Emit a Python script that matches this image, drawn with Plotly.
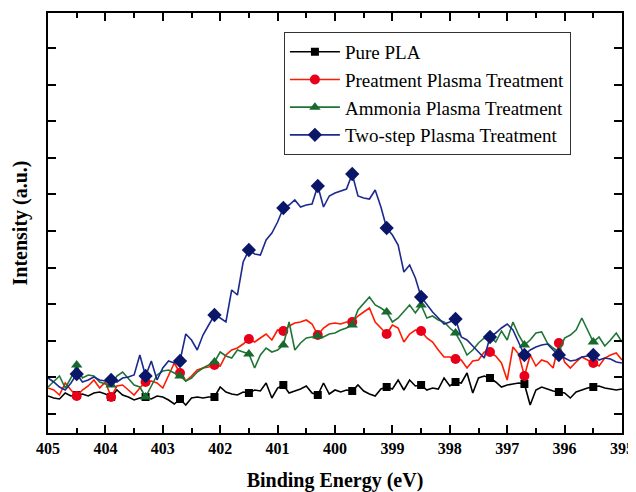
import plotly.graph_objects as go

# Binding energy grid (eV), 0.1 eV step from 405.0 down to 395.0
energy = [round(405.0 - 0.1 * i, 1) for i in range(101)]

pure_pla = [37, 35, 34, 40, 37, 38, 39, 37, 40, 41, 39, 36, 43, 38, 36, 33, 35, 36, 34, 37,
            36, 33, 29, 34, 28, 35, 36, 35, 36, 36, 46, 41, 39, 38, 41, 40, 43, 42, 50, 35,
            45, 48, 40, 42, 44, 47, 40, 38, 50, 39, 43, 41, 43, 42, 48, 42, 39, 37, 44, 46,
            44, 53, 43, 53, 47, 48, 43, 45, 44, 55, 47, 51, 50, 60, 40, 55, 57, 55, 51, 46,
            48, 49, 50, 49, 28, 43, 46, 44, 42, 41, 40, 35, 41, 43, 45, 46, 47, 45, 44, 43, 44]

pretreat = [45, 43, 38, 50, 43, 37, 43, 47, 53, 45, 51, 36, 47, 48, 43, 38, 45, 51, 52, 50,
            45, 58, 70, 60, 52, 57, 63, 65, 66, 68, 67, 78, 83, 85, 89, 94, 91, 95, 99, 93,
            103, 102, 107, 110, 111, 113, 109, 98, 105, 109, 110, 109, 111, 111, 117, 121, 125, 111, 105, 99,
            108, 105, 91, 99, 103, 102, 95, 91, 83, 76, 76, 74, 73, 65, 72, 73, 81, 81, 77, 70,
            53, 86, 79, 57, 78, 67, 73, 71, 65, 90, 71, 65, 71, 76, 73, 70, 67, 75, 78, 80, 73]

ammonia = [46, 52, 57, 45, 55, 68, 55, 58, 57, 51, 49, 48, 57, 61, 55, 48, 46, 36, 47, 58,
           62, 63, 60, 57, 52, 55, 61, 65, 68, 71, 81, 77, 75, 83, 81, 79, 65, 78, 85, 81,
           83, 88, 111, 83, 90, 95, 96, 97, 96, 99, 100, 103, 105, 108, 123, 130, 136, 128, 125, 121,
           111, 115, 121, 128, 120, 128, 115, 117, 113, 111, 105, 100, 90, 78, 83, 90, 95, 96, 91, 102,
           93, 111, 98, 88, 93, 100, 101, 90, 85, 81, 95, 98, 103, 115, 103, 91, 96, 87, 93, 100, 91]

two_step = [55, 51, 46, 43, 50, 59, 51, 53, 56, 53, 52, 53, 51, 55, 56, 58, 78, 57, 72, 53,
            65, 72, 70, 72, 99, 93, 83, 98, 108, 118, 115, 111, 143, 138, 171, 183, 179, 178, 193, 200,
            211, 225, 228, 233, 226, 228, 229, 247, 226, 237, 240, 242, 244, 259, 237, 235, 234, 243, 226, 205,
            198, 188, 161, 168, 155, 136, 128, 121, 115, 109, 111, 114, 96, 93, 87, 81, 75, 96, 100, 105,
            109, 103, 91, 78, 83, 86, 88, 89, 83, 78, 75, 72, 73, 76, 77, 78, 73, 75, 74, 71, 70]

series = [
    ("Pure PLA", pure_pla, "#000000", "#000000", "square", 8),
    ("Preatment Plasma Treatment", pretreat, "#ff1a00", "#e8001a", "circle", 10),
    ("Ammonia Plasma Treatment", ammonia, "#1f7535", "#17692c", "triangle-up", 10),
    ("Two-step Plasma Treatment", two_step, "#1c2a8e", "#0a1768", "diamond", 11),
]

fig = go.Figure()
for name, vals, lc, mc, sym, ms in series:
    fig.add_trace(go.Scatter(x=energy, y=vals, mode="lines",
                             line=dict(color=lc, width=1.6), showlegend=False,
                             hoverinfo="skip"))
    fig.add_trace(go.Scatter(x=energy[5::6], y=vals[5::6], mode="markers",
                             marker=dict(color=mc, symbol=sym, size=ms), showlegend=False))
for name, vals, lc, mc, sym, ms in series:
    fig.add_trace(go.Scatter(x=[None], y=[None], mode="lines+markers", name=name,
                             line=dict(color=lc, width=1.6),
                             marker=dict(color=mc, symbol=sym, size=ms)))

axis_common = dict(showline=True, linecolor="black", linewidth=2, mirror="allticks",
                   ticks="inside", tickcolor="black", tickwidth=2, showgrid=False,
                   zeroline=False, automargin=False)

# the page body has an 8px margin, so the figure is offset by 8px
fig.update_layout(
    width=628, height=484,
    margin=dict(l=40, r=14, t=5, b=59),
    paper_bgcolor="white", plot_bgcolor="white",
    font=dict(family="Liberation Serif", color="black"),
    xaxis=dict(range=[405, 395], dtick=1, tick0=395, ticklen=8,
               minor=dict(dtick=0.5, ticks="inside", ticklen=5, tickcolor="black", tickwidth=2),
               tickfont=dict(size=16, weight="bold", family="Liberation Serif"),
               title=dict(text="Binding Energy (eV)", standoff=20,
                          font=dict(size=20, weight="bold", family="Liberation Serif")),
               **axis_common),
    yaxis=dict(range=[0, 420], tick0=19, dtick=36.6, ticklen=8, showticklabels=False,
               title=dict(text="Intensity (a.u.)", standoff=13,
                          font=dict(size=20, weight="bold", family="Liberation Serif")),
               **axis_common),
    legend=dict(x=0.411, y=0.955, xanchor="left", yanchor="top",
                bgcolor="white", bordercolor="#333333", borderwidth=1,
                font=dict(size=19, family="Liberation Serif"),
                tracegroupgap=0, itemwidth=50),
)

fig.write_html("out.html")
